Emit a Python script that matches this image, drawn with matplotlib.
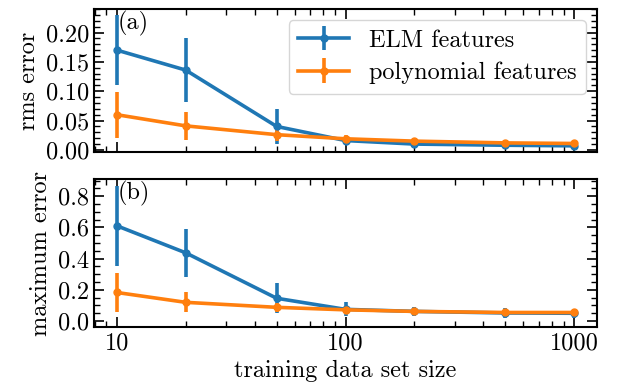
import matplotlib
matplotlib.use("Agg")
import matplotlib.pyplot as plt
from matplotlib.ticker import MultipleLocator, FixedLocator, FixedFormatter, NullFormatter

plt.rcParams['font.family'] = 'cmr10'
plt.rcParams['mathtext.fontset'] = 'cm'
plt.rcParams['axes.unicode_minus'] = False
plt.rcParams['font.size'] = 17.5

# --- data ---
sizes = [10, 20, 50, 100, 200, 500, 1000]

rms_elm = [0.170, 0.136, 0.040, 0.016, 0.010, 0.008, 0.007]
rms_elm_err = [0.060, 0.055, 0.030, 0.008, 0.004, 0.003, 0.003]
rms_poly = [0.060, 0.041, 0.026, 0.019, 0.015, 0.012, 0.011]
rms_poly_err = [0.039, 0.024, 0.010, 0.006, 0.004, 0.003, 0.003]

max_elm = [0.610, 0.437, 0.146, 0.075, 0.062, 0.052, 0.050]
max_elm_err = [0.255, 0.155, 0.095, 0.045, 0.030, 0.030, 0.030]
max_poly = [0.183, 0.120, 0.088, 0.072, 0.062, 0.055, 0.055]
max_poly_err = [0.125, 0.065, 0.030, 0.025, 0.022, 0.022, 0.022]

blue = '#1f77b4'
orange = '#ff7f0e'

fig = plt.figure(figsize=(6.17, 3.92), dpi=100)
ax1 = fig.add_axes([0.1523, 0.6115, 0.8153, 0.3655])
ax2 = fig.add_axes([0.1523, 0.165, 0.8153, 0.3785])

kw = dict(marker='o', markersize=5, linewidth=2.6, elinewidth=2.6, capsize=0)
ax1.errorbar(sizes, rms_elm, yerr=rms_elm_err, color=blue, label='ELM features', **kw)
ax1.errorbar(sizes, rms_poly, yerr=rms_poly_err, color=orange, label='polynomial features', **kw)
ax2.errorbar(sizes, max_elm, yerr=max_elm_err, color=blue, **kw)
ax2.errorbar(sizes, max_poly, yerr=max_poly_err, color=orange, **kw)

for ax in (ax1, ax2):
    ax.set_xscale('log')
    ax.set_xlim(7.94, 1259)
    ax.xaxis.set_major_locator(FixedLocator([10, 100, 1000]))
    ax.xaxis.set_major_formatter(FixedFormatter(['10', '100', '1000']))
    ax.xaxis.set_minor_formatter(NullFormatter())
    ax.tick_params(which='both', direction='in', top=True, right=True)
    ax.tick_params(which='major', length=7, width=1.2)
    ax.tick_params(which='minor', length=4, width=1.0)
    for s in ax.spines.values():
        s.set_linewidth(1.5)

ax1.set_ylim(-0.004, 0.24)
ax1.yaxis.set_major_locator(MultipleLocator(0.05))
ax1.yaxis.set_minor_locator(MultipleLocator(0.01))
ax1.yaxis.set_major_formatter(plt.FormatStrFormatter('%.2f'))
ax1.tick_params(axis='x', labelbottom=False)
ax1.set_ylabel('rms error')
ax1.text(0.048, 0.985, '(a)', transform=ax1.transAxes, va='top', ha='left')
ax1.legend(loc='upper right', fontsize=17.5, handlelength=2.1,
           borderaxespad=0.45, labelspacing=0.4)

ax2.set_ylim(-0.04, 0.91)
ax2.yaxis.set_major_locator(MultipleLocator(0.2))
ax2.yaxis.set_minor_locator(MultipleLocator(0.05))
ax2.yaxis.set_major_formatter(plt.FormatStrFormatter('%.1f'))
ax2.set_ylabel('maximum error')
ax2.set_xlabel('training data set size')
ax2.text(0.048, 0.985, '(b)', transform=ax2.transAxes, va='top', ha='left')

fig.align_ylabels([ax1, ax2])
fig.savefig('out.png', dpi=100)
